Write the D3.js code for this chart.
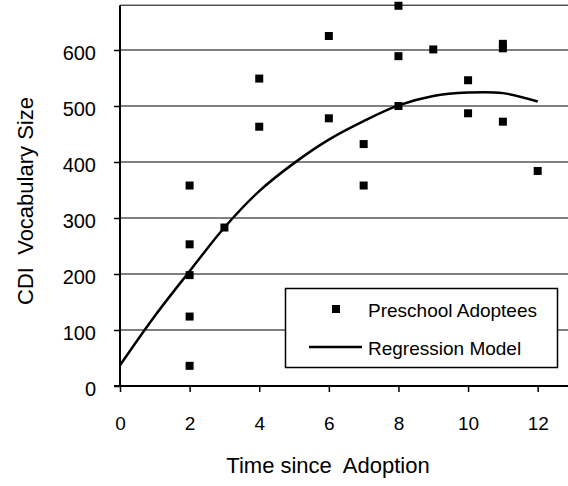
<!DOCTYPE html>
<html>
<head>
  <meta charset="UTF-8">
  <style>
    body { margin: 0; background: #fff; }
    svg { display: block; }
    text { font-family: "Liberation Sans", Arial, sans-serif; fill: #000; }
    .title { white-space: pre; }
  </style>
</head>
<body>
  <script src="https://d3js.org/d3.v7.min.js"></script>
  <script>
    // observed data (years since adoption, CDI vocabulary size)
    var obsX = [2, 2, 2, 2, 2, 3, 4, 4, 6, 6, 7, 7, 8, 8, 8, 9, 10, 10, 11, 11, 11, 12];
    var obsY = [358, 253, 198, 124, 36, 283, 549, 463, 625, 478, 432, 358, 679, 589, 500, 601, 546, 487, 611, 603, 472, 384];

    // regression model
    var fitX = [0, 1, 2, 3, 4, 5, 6, 7, 8, 9, 10, 11, 12];
    var fitY = [37, 125, 205, 283, 348, 398, 440, 473, 501, 518, 524, 523, 508];

    var xTicks = [0, 2, 4, 6, 8, 10, 12];
    var yTicks = [0, 100, 200, 300, 400, 500, 600];
    var legendItems = ["Preschool Adoptees", "Regression Model"];

    var W = 568, H = 486;
    var svg = d3.select("body").append("svg").attr("width", W).attr("height", H);

    var x = d3.scaleLinear().domain([0, 13]).range([120, 572.5]);
    var y = d3.scaleLinear().domain([0, 680]).range([386, 5.2]);

    // gridlines
    svg.selectAll(".grid").data(yTicks.slice(1)).enter().append("line")
      .attr("x1", 120).attr("x2", W)
      .attr("y1", function(d) { return y(d); }).attr("y2", function(d) { return y(d); })
      .attr("stroke", "#000").attr("stroke-width", 1);
    // top border
    svg.append("line").attr("x1", 120).attr("x2", W)
      .attr("y1", y(680)).attr("y2", y(680))
      .attr("stroke", "#000").attr("stroke-width", 1);

    // axes
    var yAxis = d3.axisLeft(y).tickValues(yTicks).tickSize(6).tickPadding(18);
    var xAxis = d3.axisBottom(x).tickValues(xTicks).tickSize(6).tickPadding(25);

    var gy = svg.append("g").attr("transform", "translate(120,0)").call(yAxis);
    var gx = svg.append("g").attr("transform", "translate(0,386)").call(xAxis);
    [gx, gy].forEach(function(g) {
      g.select(".domain").remove();
      g.selectAll(".tick line").attr("stroke", "#000").attr("stroke-width", 1.5);
      g.selectAll(".tick text").style("font-size", "19px")
        .style("font-family", "'Liberation Sans', Arial, sans-serif");
    });
    gy.selectAll(".tick text").style("font-size", "20px").attr("dy", "0.45em");
    svg.append("line").attr("x1", 120).attr("x2", 120).attr("y1", y(680)).attr("y2", 386)
      .attr("stroke", "#000").attr("stroke-width", 2);
    svg.append("line").attr("x1", 114).attr("x2", W).attr("y1", 386).attr("y2", 386)
      .attr("stroke", "#000").attr("stroke-width", 2);

    // regression curve
    var line = d3.line()
      .x(function(d, i) { return x(fitX[i]); })
      .y(function(d) { return y(d); })
      .curve(d3.curveCatmullRom);
    svg.append("path").datum(fitY).attr("d", line)
      .attr("fill", "none").attr("stroke", "#000").attr("stroke-width", 2.5);

    // points
    svg.selectAll(".pt").data(obsY).enter().append("rect")
      .attr("x", function(d, i) { return x(obsX[i]) - 4; })
      .attr("y", function(d) { return y(d) - 4; })
      .attr("width", 8).attr("height", 8).attr("fill", "#000");

    // axis titles
    svg.append("text").attr("class", "title").attr("x", 328).attr("y", 473).attr("text-anchor", "middle")
      .style("font-size", "22px").text("Time since  Adoption");
    svg.append("text").attr("class", "title").attr("transform", "translate(33,201) rotate(-90)").attr("text-anchor", "middle")
      .style("font-size", "22px").text("CDI  Vocabulary Size");

    // legend
    var lg = svg.append("g");
    lg.append("rect").attr("x", 285.5).attr("y", 288.5).attr("width", 272).attr("height", 79)
      .attr("fill", "#fff").attr("stroke", "#000").attr("stroke-width", 1.5);
    lg.append("rect").attr("x", 332).attr("y", 305).attr("width", 8).attr("height", 8).attr("fill", "#000");
    lg.append("line").attr("x1", 309).attr("x2", 362).attr("y1", 347).attr("y2", 347)
      .attr("stroke", "#000").attr("stroke-width", 2.5);
    lg.selectAll(".lt").data(legendItems).enter().append("text")
      .attr("x", 368).attr("y", function(d, i) { return 317 + i * 38; })
      .style("font-size", "19px").text(function(d) { return d; });
  </script>
</body>
</html>
